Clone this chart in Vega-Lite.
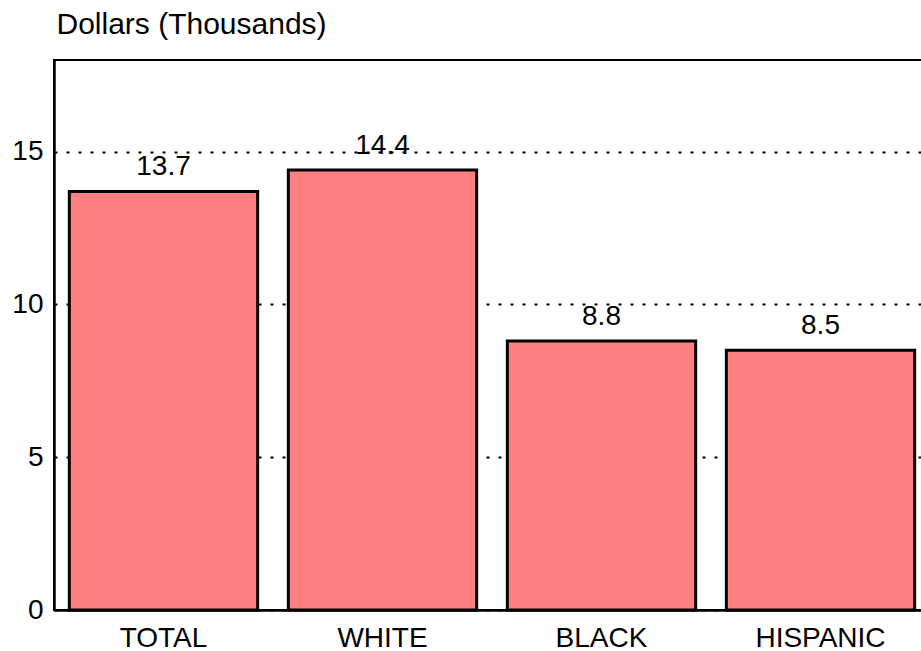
{
  "$schema": "https://vega.github.io/schema/vega-lite/v6.json",
  "width": 876,
  "height": 550,
  "autosize": "none",
  "padding": {"left": 54, "top": 60, "right": 0, "bottom": 41},
  "background": "white",
  "config": {
    "view": {"stroke": "black", "strokeWidth": 2},
    "font": "Liberation Sans"
  },
  "data": {
    "values": [
      {"group": "TOTAL", "value": 13.7},
      {"group": "WHITE", "value": 14.4},
      {"group": "BLACK", "value": 8.8},
      {"group": "HISPANIC", "value": 8.5}
    ]
  },
  "encoding": {
    "x": {
      "field": "group",
      "type": "nominal",
      "sort": null,
      "scale": {"paddingInner": 0.14, "paddingOuter": 0.07},
      "axis": {
        "title": null,
        "labelAngle": 0,
        "labelFont": "Liberation Sans",
        "labelFontSize": 28,
        "labelColor": "black",
        "labelBaseline": "alphabetic",
        "labelPadding": 36,
        "ticks": false,
        "tickSize": 0,
        "domainColor": "black",
        "domainWidth": 2.5,
        "grid": false
      }
    },
    "y": {
      "field": "value",
      "type": "quantitative",
      "scale": {"domain": [0, 18], "nice": false},
      "axis": {
        "title": "Dollars (Thousands)",
        "titleAngle": 0,
        "titleAlign": "left",
        "titleBaseline": "alphabetic",
        "titleX": 2,
        "titleY": -27,
        "titleFont": "Liberation Sans",
        "titleFontSize": 30,
        "titleFontWeight": "normal",
        "titleColor": "black",
        "values": [0, 5, 10, 15],
        "labelFont": "Liberation Sans",
        "labelFontSize": 28,
        "labelColor": "black",
        "labelPadding": 11,
        "ticks": false,
        "tickSize": 0,
        "domainColor": "black",
        "domainWidth": 2.5,
        "grid": true,
        "gridColor": "black",
        "gridWidth": 2,
        "gridDash": [3, 9]
      }
    }
  },
  "layer": [
    {
      "mark": {"type": "bar", "fill": "#FF8080", "stroke": "black", "strokeWidth": 3}
    },
    {
      "mark": {"type": "text", "baseline": "alphabetic", "dy": -16, "fontSize": 28, "font": "Liberation Sans", "color": "black"},
      "encoding": {"text": {"field": "value", "type": "quantitative", "format": ".1f"}}
    }
  ]
}
